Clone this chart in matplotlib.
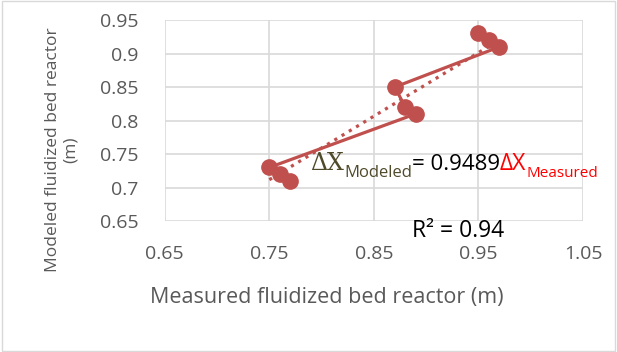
import matplotlib
matplotlib.use('Agg')
import matplotlib.pyplot as plt
import numpy as np

measured = [0.77, 0.76, 0.75, 0.89, 0.88, 0.87, 0.97, 0.96, 0.95]
modeled = [0.71, 0.72, 0.73, 0.81, 0.82, 0.85, 0.91, 0.92, 0.93]
slope = 0.9489
r2 = 0.94
xticks = [0.65, 0.75, 0.85, 0.95, 1.05]
yticks = [0.65, 0.7, 0.75, 0.8, 0.85, 0.9, 0.95]

plt.rcParams['font.family'] = ['Open Sans', 'DejaVu Sans']
red = '#C0504D'

fig = plt.figure(figsize=(6.17, 3.52), dpi=100)
ax = fig.add_axes([0.267, 0.372, 0.678, 0.571])

ax.plot(measured, modeled, '-o', color=red, lw=2.3, ms=11, zorder=3)
xs = np.array([min(measured), max(measured)])
ax.plot(xs, slope * xs, ':', color=red, lw=2.3, zorder=2)

ax.set_xlim(0.65, 1.05)
ax.set_ylim(0.65, 0.95)
ax.set_xticks(xticks)
ax.set_xticklabels([('%g' % t) for t in xticks])
ax.set_yticks(yticks)
ax.set_yticklabels([('%g' % t) for t in yticks])
ax.grid(True, color='#d9d9d9', lw=1.2)
ax.set_axisbelow(True)
for s in ax.spines.values():
    s.set_visible(False)
ax.tick_params(length=0, labelsize=14, colors='#595959')
ax.tick_params(axis='x', pad=17)
ax.tick_params(axis='y', pad=19)
ax.set_xlabel('Measured fluidized bed reactor (m)', fontsize=15.5, color='#595959', labelpad=12)
ax.xaxis.set_label_coords(0.388, -0.33)
ax.set_ylabel('Modeled fluidized bed reactor\n(m)', fontsize=12.5, color='#595959')
ax.yaxis.set_label_coords(-0.205, 0.353)

# equation label built from pieces
fig.canvas.draw()
r = fig.canvas.get_renderer()
x0, y0 = 310 / 617, 1 - 170 / 352
pieces = [
    ('ΔX', 'DejaVu Serif', 17, '#4f4a2a', 0),
    ('Modeled', 'Open Sans', 12, '#4f4a2a', -7),
    ('= %.4f' % slope, 'Open Sans', 16, 'black', 0),
    ('ΔX', 'Open Sans', 16.5, 'red', 0),
    ('Measured', 'Open Sans', 11, 'red', -7),
]
x = x0
for txt, fam, size, col, dy in pieces:
    t = fig.text(x, y0 + dy / 352, txt, family=fam, fontsize=size, color=col, va='baseline')
    bb = t.get_window_extent(r)
    x += bb.width / 617
fig.text(412 / 617, 1 - 237 / 352, 'R² = %.2f' % r2, fontsize=16.5, color='black', va='baseline')

border = plt.Rectangle((0.003, 0.003), 0.994, 0.994, transform=fig.transFigure,
                       fill=False, edgecolor='#d9d9d9', lw=1)
fig.patches.append(border)

fig.savefig('out.png', dpi=100)
